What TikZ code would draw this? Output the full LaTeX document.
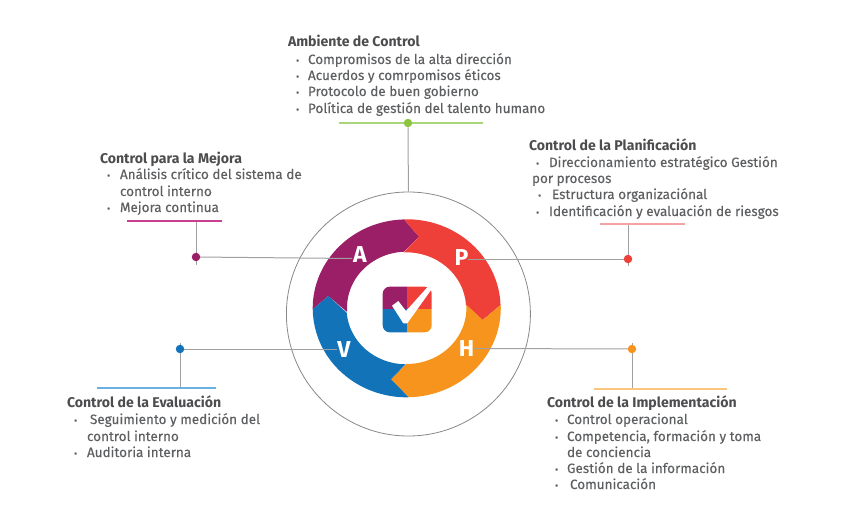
\documentclass[tikz,border=0pt]{standalone}
\usepackage{fontspec}
\setmainfont{Fira Sans}[FakeBold=0.25]
\newfontfamily\headfont{Fira Sans}[UprightFont=* Bold]
\definecolor{txtgray}{HTML}{5E5F61}
\definecolor{headgray}{HTML}{4D4D4F}
\definecolor{linegray}{HTML}{A0A0A0}
\definecolor{cpurple}{HTML}{9B1F66}
\definecolor{cred}{HTML}{EE4039}
\definecolor{corange}{HTML}{F7941D}
\definecolor{cblue}{HTML}{1273B9}
\definecolor{cgreen}{HTML}{8CC63F}
\definecolor{rpurple}{HTML}{C93F8E}
\definecolor{rred}{HTML}{F5A3A3}
\definecolor{rorange}{HTML}{F9C57F}
\definecolor{rblue}{HTML}{6AB0E0}
\definecolor{rgreen}{HTML}{A9D67A}
\newcommand{\bul}[1]{\makebox[#1pt][l]{\fontsize{10}{10}\selectfont •}}
\tikzset{
  txt/.style={anchor=base west,inner sep=0pt,outer sep=0pt,text=txtgray,font=\fontsize{13.5}{13.5}\selectfont},
  head/.style={anchor=base west,inner sep=0pt,outer sep=0pt,text=headgray,font=\headfont\fontsize{14.1}{14.1}\selectfont},
  conn/.style={draw=linegray,line width=1pt},
  dotn/.style={circle,inner sep=0pt,minimum size=8.5pt,fill=#1},
  rule/.style={draw=#1,line width=1.4pt},
  lett/.style={text=white,inner sep=0pt,font=\headfont\fontsize{23}{23}\selectfont},
}
\begin{document}
\begin{tikzpicture}[x=1pt,y=-1pt]
\useasboundingbox (0,0) rectangle (848,527);
% free ends
\coordinate (gl) at (339,123); \coordinate (gr) at (483,123);
\coordinate (pl) at (127,221); \coordinate (pr) at (222,221);
\coordinate (rl) at (600,224); \coordinate (rr) at (685,224);
\coordinate (ol) at (594,389); \coordinate (or) at (727,389);
\coordinate (bl) at (97,388);  \coordinate (br) at (216,388);
\coordinate (ptop) at (196,221);
\coordinate (rtop) at (628,224); \coordinate (obot) at (632,389);
\coordinate (bbot) at (180,388);
\coordinate (pend) at (196,265); \coordinate (rend) at (628,266);
\coordinate (oend) at (632,343); \coordinate (bend) at (180,343);
\coordinate (aend) at (352,258.5); \coordinate (pnd) at (468,259);
\coordinate (hnd) at (473,348.5); \coordinate (vnd) at (337,349);
% outer circle
\node[circle,draw=linegray!85!black,line width=0.8pt,minimum size=244pt,inner sep=0pt] (ring) at (408.4,314) {};
% coloured arrows
\fill[cpurple] (312.7,309.3) arc[start angle=-180.6,end angle=-91.6,x radius=94,y radius=89]
  -- (419,236.7) -- (404,251.7)
  arc[start angle=-92.6,end angle=-184.5,x radius=59.7,y radius=56] -- (328.3,296) -- cycle;
\fill[cred] (404,219.3) arc[start angle=-91.6,end angle=-2.1,x radius=94,y radius=89]
  -- (482.7,320) -- (466,305)
  arc[start angle=-3.4,end angle=-92.6,x radius=59.7,y radius=56] -- (419,236.7) -- cycle;
\fill[corange] (500.7,305) arc[start angle=-2.1,end angle=88.8,x radius=94,y radius=89]
  -- (391,379.3) -- (406,364)
  arc[start angle=90.7,end angle=-3.4,x radius=59.7,y radius=56] -- (482.7,320) -- cycle;
\fill[cblue] (408.7,397.3) arc[start angle=88.8,end angle=179.4,x radius=94,y radius=89]
  -- (328.3,296) -- (346.7,312.7)
  arc[start angle=175.5,end angle=90.7,x radius=59.7,y radius=56] -- (391,379.3) -- cycle;
% central icon
\begin{scope}
\clip[rounded corners=7pt] (382.7,286.7) rectangle (431.7,332.3);
\fill[cpurple] (382,286) rectangle (406.7,309.3);
\fill[cred] (406.7,286) rectangle (432,309.3);
\fill[cblue] (382,309.3) rectangle (406.7,333);
\fill[corange] (406.7,309.3) rectangle (432,333);
\end{scope}
\fill[white] (392,305.7) -- (398.3,301) -- (406,311) -- (430,284.3) -- (432.7,287.7) -- (407.3,323.3) -- (403.3,323.3) -- cycle;
% connectors
\draw[conn] (ptop) -- (pend);
\draw[conn] (196,257) -- (aend);
\draw[conn] (rtop) -- (rend);
\draw[conn] (628,259) -- (pnd);
\draw[conn] (obot) -- (oend);
\draw[conn] (632,349) -- (hnd);
\draw[conn] (bbot) -- (bend);
\draw[conn] (180,349) -- (vnd);
\draw[rule=rgreen] (gl) -- (gr);
\draw[rule=rpurple] (pl) -- (pr);
\draw[rule=rred] (rl) -- (rr);
\draw[rule=rorange] (ol) -- (or);
\draw[rule=rblue] (bl) -- (br);
% dots
\node[dotn=cgreen] (dg) at (408,123) {};
\node[dotn=cpurple] (dp) at (196,257) {};
\node[dotn=cred] (dr) at (628,259) {};
\node[dotn=corange] (do) at (632,349) {};
\node[dotn=cblue] (db) at (180,349) {};
\draw[conn] (dg) -- (ring.north);
% letters
\node[lett] (A) at (360,254.5) {A};
\node[lett] (P) at (461.5,258) {P};
\node[lett] (H) at (466.5,348.5) {H};
\node[lett] (V) at (344,350) {V};
% Ambiente
\node[head] (t1) at (288,47) {Ambiente de Control};
\node[txt] (t1a) at (296,64) {\bul{12}Compromisos de la alta dirección};
\node[txt] (t1b) at (296,80) {\bul{12}Acuerdos y comrpomisos éticos};
\node[txt] (t1c) at (296,96) {\bul{12}Protocolo de buen gobierno};
\node[txt] (t1d) at (296,113) {\bul{12}Política de gestión del talento humano};
% Planificacion
\node[head] (t2) at (529,150) {Control de la Planificación};
\node[txt] (t2a) at (536,167) {\bul{13}Direccionamiento estratégico Gestión};
\node[txt] (t2b) at (532,183) {por procesos};
\node[txt] (t2c) at (538,199) {\bul{14}Estructura organizaciónal};
\node[txt] (t2d) at (536,216) {\bul{13}Identificación y evaluación de riesgos};
% Mejora
\node[head] (t3) at (100,163) {Control para la Mejora};
\node[txt] (t3a) at (107,179) {\bul{13}Análisis crítico del sistema de};
\node[txt] (t3b) at (120,196) {control interno};
\node[txt] (t3c) at (107,212) {\bul{13}Mejora continua};
% Evaluacion
\node[head] (t4) at (67,407) {Control de la Evaluación};
\node[txt] (t4a) at (74,424) {\bul{16}Seguimiento y medición del};
\node[txt] (t4b) at (87,441) {control interno};
\node[txt] (t4c) at (74,457) {\bul{13}Auditoria interna};
% Implementacion
\node[head] (t5) at (547,407) {Control de la Implementación};
\node[txt] (t5a) at (555,424) {\bul{12}Control operacional};
\node[txt] (t5b) at (555,441) {\bul{12}Competencia, formación y toma};
\node[txt] (t5c) at (567,457) {de conciencia};
\node[txt] (t5d) at (555,473) {\bul{12}Gestión de la información};
\node[txt] (t5e) at (555,489) {\bul{15}Comunicación};
\end{tikzpicture}
\end{document}
